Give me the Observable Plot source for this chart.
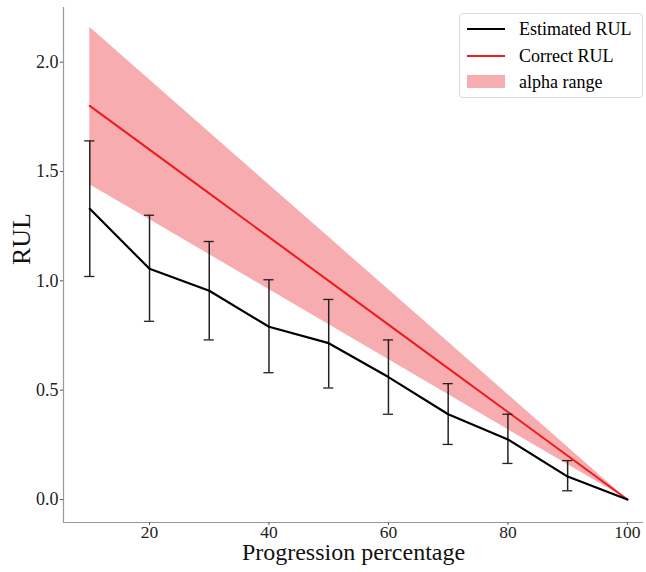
<!DOCTYPE html>
<html>
<head>
<meta charset="utf-8">
<script src="https://cdn.jsdelivr.net/npm/d3@7"></script>
<script src="https://cdn.jsdelivr.net/npm/@observablehq/plot@0.6"></script>
<style>
  body { margin: 0; background: #fff; }
  #wrap { position: relative; width: 646px; height: 572px; font-family: "Liberation Serif", "Times New Roman", serif; }
  .legend { position: absolute; left: 459px; top: 13px; width: 184px; height: 85px; border: 1px solid #dcdcdc; border-radius: 4px; background: rgba(255,255,255,0.85); box-sizing: border-box; }
  .item { position: absolute; left: 0; height: 26px; font-size: 18px; color: #000; }
  .sw { position: absolute; left: 7px; width: 38px; }
  .lab { position: absolute; left: 59px; top: 2px; white-space: nowrap; line-height: 22px; }
</style>
</head>
<body>
<div id="wrap"></div>
<script>
const progress = [10, 20, 30, 40, 50, 60, 70, 80, 90, 100];
const estimated = [1.33, 1.055, 0.955, 0.79, 0.715, 0.56, 0.39, 0.275, 0.105, 0.0];
const errUpper = [1.64, 1.30, 1.18, 1.005, 0.915, 0.73, 0.53, 0.39, 0.178, 0.0];
const errLower = [1.02, 0.815, 0.73, 0.58, 0.51, 0.39, 0.252, 0.165, 0.04, 0.0];
const correct = [1.8, 1.6, 1.4, 1.2, 1.0, 0.8, 0.6, 0.4, 0.2, 0.0];
const alphaUpper = [2.16, 1.92, 1.68, 1.44, 1.2, 0.96, 0.72, 0.48, 0.24, 0.0];
const alphaLower = [1.44, 1.28, 1.12, 0.96, 0.8, 0.64, 0.48, 0.32, 0.16, 0.0];
const xTicks = [20, 40, 60, 80, 100];
const yTicks = [0.0, 0.5, 1.0, 1.5, 2.0];
const legendLabels = ["Estimated RUL", "Correct RUL", "alpha range"];

const rows = progress.map((p, i) => ({
  p, est: estimated[i], hi: errUpper[i], lo: errLower[i],
  cor: correct[i], au: alphaUpper[i], al: alphaLower[i]
}));
const bars = rows.filter(d => d.hi !== d.lo);
const caps = bars.flatMap(d => [{ p: d.p, v: d.hi }, { p: d.p, v: d.lo }]);

const xDom = [5.6, 102.7];
const yDom = [-0.105, 2.25];
const band = "#f7adb0";
const capHalf = 0.85;

const chart = Plot.plot({
  width: 646,
  height: 572,
  marginLeft: 63,
  marginRight: 3,
  marginTop: 7,
  marginBottom: 50,
  style: { fontFamily: "Liberation Serif, Times New Roman, serif", background: "#fff" },
  x: { type: "linear", domain: xDom },
  y: { type: "linear", domain: yDom },
  marks: [
    Plot.areaY(rows, { x: "p", y1: "al", y2: "au", fill: band, fillOpacity: 1 }),
    Plot.line(rows, { x: "p", y: "cor", stroke: "#ee1c1c", strokeWidth: 2 }),
    Plot.ruleX(bars, { x: "p", y1: "lo", y2: "hi", stroke: "#222", strokeWidth: 1.5 }),
    Plot.ruleY(caps, { y: "v", x1: d => d.p - capHalf, x2: d => d.p + capHalf, stroke: "#222", strokeWidth: 1.3 }),
    Plot.line(rows, { x: "p", y: "est", stroke: "#000", strokeWidth: 2.2 }),
    Plot.ruleX([xDom[0]], { stroke: "#999", strokeWidth: 1.2 }),
    Plot.ruleY([yDom[0]], { stroke: "#999", strokeWidth: 1.2 }),
    Plot.axisX(xTicks, { tickSize: 3, tickPadding: 0, fontSize: 17.5, label: null, stroke: "#555", color: "#222" }),
    Plot.axisY(yTicks, { tickSize: 3, tickPadding: 2, fontSize: 18, label: null, tickFormat: d3.format(".1f"), stroke: "#555", color: "#222" }),
    Plot.text(["Progression percentage"], { frameAnchor: "bottom", dy: 37, fontSize: 24, fill: "#111" }),
    Plot.text(["RUL"], { frameAnchor: "left", dx: -42, rotate: -90, fontSize: 26, fill: "#111" })
  ]
});

const wrap = document.getElementById("wrap");
wrap.appendChild(chart);

const legend = document.createElement("div");
legend.className = "legend";
const swatches = [
  '<div class="sw" style="top:12px;height:2px;background:#000"></div>',
  '<div class="sw" style="top:12px;height:2px;background:#ee1c1c"></div>',
  '<div class="sw" style="top:6px;height:13px;background:' + band + '"></div>'
];
legendLabels.forEach((t, i) => {
  const it = document.createElement("div");
  it.className = "item";
  it.style.top = (2 + i * 26.5) + "px";
  it.style.width = "182px";
  it.innerHTML = swatches[i] + '<span class="lab">' + t + '</span>';
  legend.appendChild(it);
});
wrap.appendChild(legend);
</script>
</body>
</html>
